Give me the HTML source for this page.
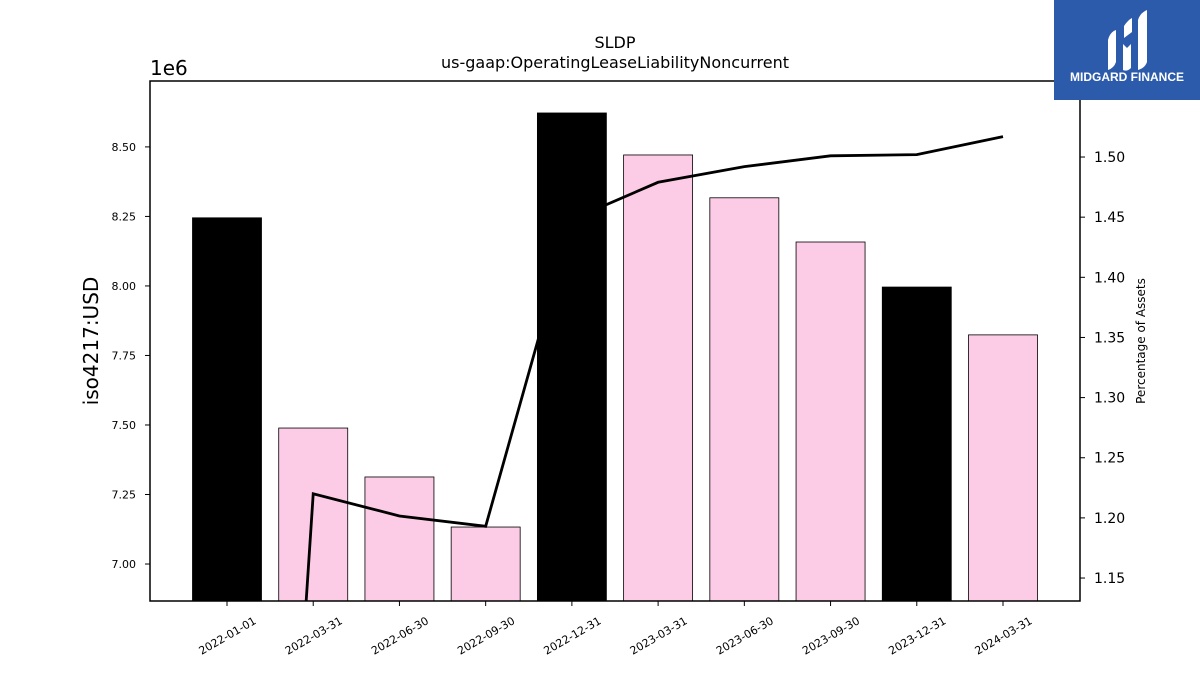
<!DOCTYPE html>
<html><head><meta charset="utf-8"><style>
html,body{margin:0;background:#fff;font-family:"Liberation Sans","DejaVu Sans",sans-serif;overflow:hidden;width:1200px;height:675px}
svg{display:block}
</style></head><body>
<svg id="chart" width="1200" height="675" xmlns="http://www.w3.org/2000/svg" font-family="DejaVu Sans, Liberation Sans, sans-serif">
<text x="615" y="48" text-anchor="middle" font-size="16">SLDP</text>
<text x="615" y="68" text-anchor="middle" font-size="16">us-gaap:OperatingLeaseLiabilityNoncurrent</text>
<text x="150" y="75" font-size="20">1e6</text>
<text transform="translate(98,341) rotate(-90)" text-anchor="middle" font-size="20">iso4217:USD</text>
<text transform="translate(1145,341) rotate(-90)" text-anchor="middle" font-size="12">Percentage of Assets</text>
<defs><clipPath id="pc"><rect x="150" y="81" width="930" height="520"/></clipPath></defs>
<g id="bars" clip-path="url(#pc)"></g>
<g id="line" clip-path="url(#pc)"></g>
<g id="axes"></g>
<rect x="150" y="81" width="930" height="520" fill="none" stroke="#000" stroke-width="1.5"/>
<g>
<rect x="1054" y="0" width="146" height="100" fill="#2c5bab"/>
<path d="M1108 70 L1108 40 Q1110 32 1116 30 L1116 62 Q1114 68 1108 70Z" fill="#fff"/>
<path d="M1123 70 L1123 44 L1127 48 L1131 44 L1131 68 Q1127 72 1123 70Z" fill="#fff"/>
<path d="M1138 70 L1138 20 Q1140 13 1147 10 L1147 62 Q1145 68 1138 70Z" fill="#fff"/>
<path d="M1124 38 L1124 26 Q1128 20 1132 18 L1132 32Z" fill="#fff"/>
<text x="1127" y="81" text-anchor="middle" font-size="12" font-weight="bold" fill="#fff" font-family="Liberation Sans, sans-serif">MIDGARD FINANCE</text>
</g>
</svg>
<script>
const categories=["2022-01-01","2022-03-31","2022-06-30","2022-09-30","2022-12-31","2023-03-31","2023-06-30","2023-09-30","2023-12-31","2024-03-31"];
const barValues=[8.245,7.489,7.313,7.133,8.622,8.471,8.317,8.158,7.996,7.824];
const barIsYearEnd=[true,false,false,false,true,false,false,false,true,false];
const pctValues=[0.13,1.22,1.2016,1.193,1.448,1.479,1.492,1.501,1.502,1.517];
const leftTicks=[7.00,7.25,7.50,7.75,8.00,8.25,8.50];
const rightTicks=[1.15,1.20,1.25,1.30,1.35,1.40,1.45,1.50];
const NS="http://www.w3.org/2000/svg";
const X0=150,X1=1080,Y0=601,Y1=81;
const xMin=-0.893,xMax=9.893;
const yL=[6.867,8.737],yR=[1.1309,1.5632];
const xs=i=>X0+(i-xMin)/(xMax-xMin)*(X1-X0);
const yl=v=>Y0-(v-yL[0])/(yL[1]-yL[0])*(Y0-Y1);
const yr=v=>Y0-(v-yR[0])/(yR[1]-yR[0])*(Y0-Y1);
function mk(t,a,p){const e=document.createElementNS(NS,t);for(const k in a)e.setAttribute(k,a[k]);p.appendChild(e);return e;}
const bars=document.getElementById('bars'),line=document.getElementById('line'),axes=document.getElementById('axes');
const bw=69;
barValues.forEach((v,i)=>{
 const r=mk('rect',{x:xs(i)-bw/2,y:yl(v),width:bw,height:Y0-yl(v),fill:barIsYearEnd[i]?'#000':'#fccbe6',stroke:'#000','stroke-width':0.8},bars);
 
 
});
const pl=mk('polyline',{points:pctValues.map((v,i)=>xs(i)+','+yr(v)).join(' '),fill:'none',stroke:'#000','stroke-width':2.8},line);


leftTicks.forEach(v=>{
 const y=yl(v);
 const l=mk('line',{x1:X0-5,x2:X0,y1:y,y2:y,stroke:'#000'},axes);
 
 
 const t=mk('text',{x:X0-14,y:y+4,'text-anchor':'end','font-size':11},axes);
 t.textContent=v.toFixed(2);
 
 
});
rightTicks.forEach(v=>{
 const y=yr(v);
 const l=mk('line',{x1:X1,x2:X1+5,y1:y,y2:y,stroke:'#000'},axes);
 
 
 const t=mk('text',{x:X1+14,y:y+5,'font-size':14},axes);
 t.textContent=v.toFixed(2);
 
 
});
categories.forEach((c,i)=>{
 const x=xs(i);
 const l=mk('line',{x1:x,x2:x,y1:Y0,y2:Y0+5,stroke:'#000'},axes);
 
 
 const t=mk('text',{transform:`translate(${x+30},${Y0+22}) rotate(-30)`,'text-anchor':'end','font-size':11},axes);
 t.textContent=c;
 
 
});
</script>
</body></html>
